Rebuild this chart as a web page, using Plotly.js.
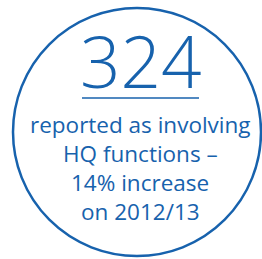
<!DOCTYPE html>
<html><head><meta charset="utf-8">
<script src="https://cdn.plot.ly/plotly-3.0.1.min.js"></script>
<style>html,body{margin:0;padding:0;background:#fff;}#c{width:262px;height:259px;}</style>
</head><body><div id="c"></div>
<script>
const headline = "324";
const captionLines = ["reported as involving", "HQ functions –", "14% increase", "on 2012/13"];
const blue = "#1762ad";

const layout = {
  width: 262, height: 259,
  margin: {l:0, r:0, t:0, b:0},
  paper_bgcolor: "#fff", plot_bgcolor: "#fff",
  showlegend: false,
  xaxis: {range:[0,262], visible:false, fixedrange:true},
  yaxis: {range:[259,0], visible:false, fixedrange:true},
  shapes: [
    {type:"circle", xref:"x", yref:"y", x0:13, x1:261, y0:8, y1:256, line:{color:blue, width:2.5}},
    {type:"line", xref:"x", yref:"y", x0:82, x1:199, y0:98, y1:98, line:{color:blue, width:1.5}}
  ],
  annotations: [
    {x:141, y:60, xref:"x", yref:"y", text:headline, showarrow:false, xanchor:"center", yanchor:"middle",
     font:{family:"Open Sans", size:71, color:blue, weight:300}}
  ].concat(captionLines.map((t,i)=>({
     x:140, y:124 + i*29, xref:"x", yref:"y", text:t, showarrow:false, xanchor:"center", yanchor:"middle",
     font:{family:"Open Sans", size:22.5, color:blue}
  })))
};
Plotly.newPlot("c", [], layout, {staticPlot:true, displayModeBar:false});
</script></body></html>
